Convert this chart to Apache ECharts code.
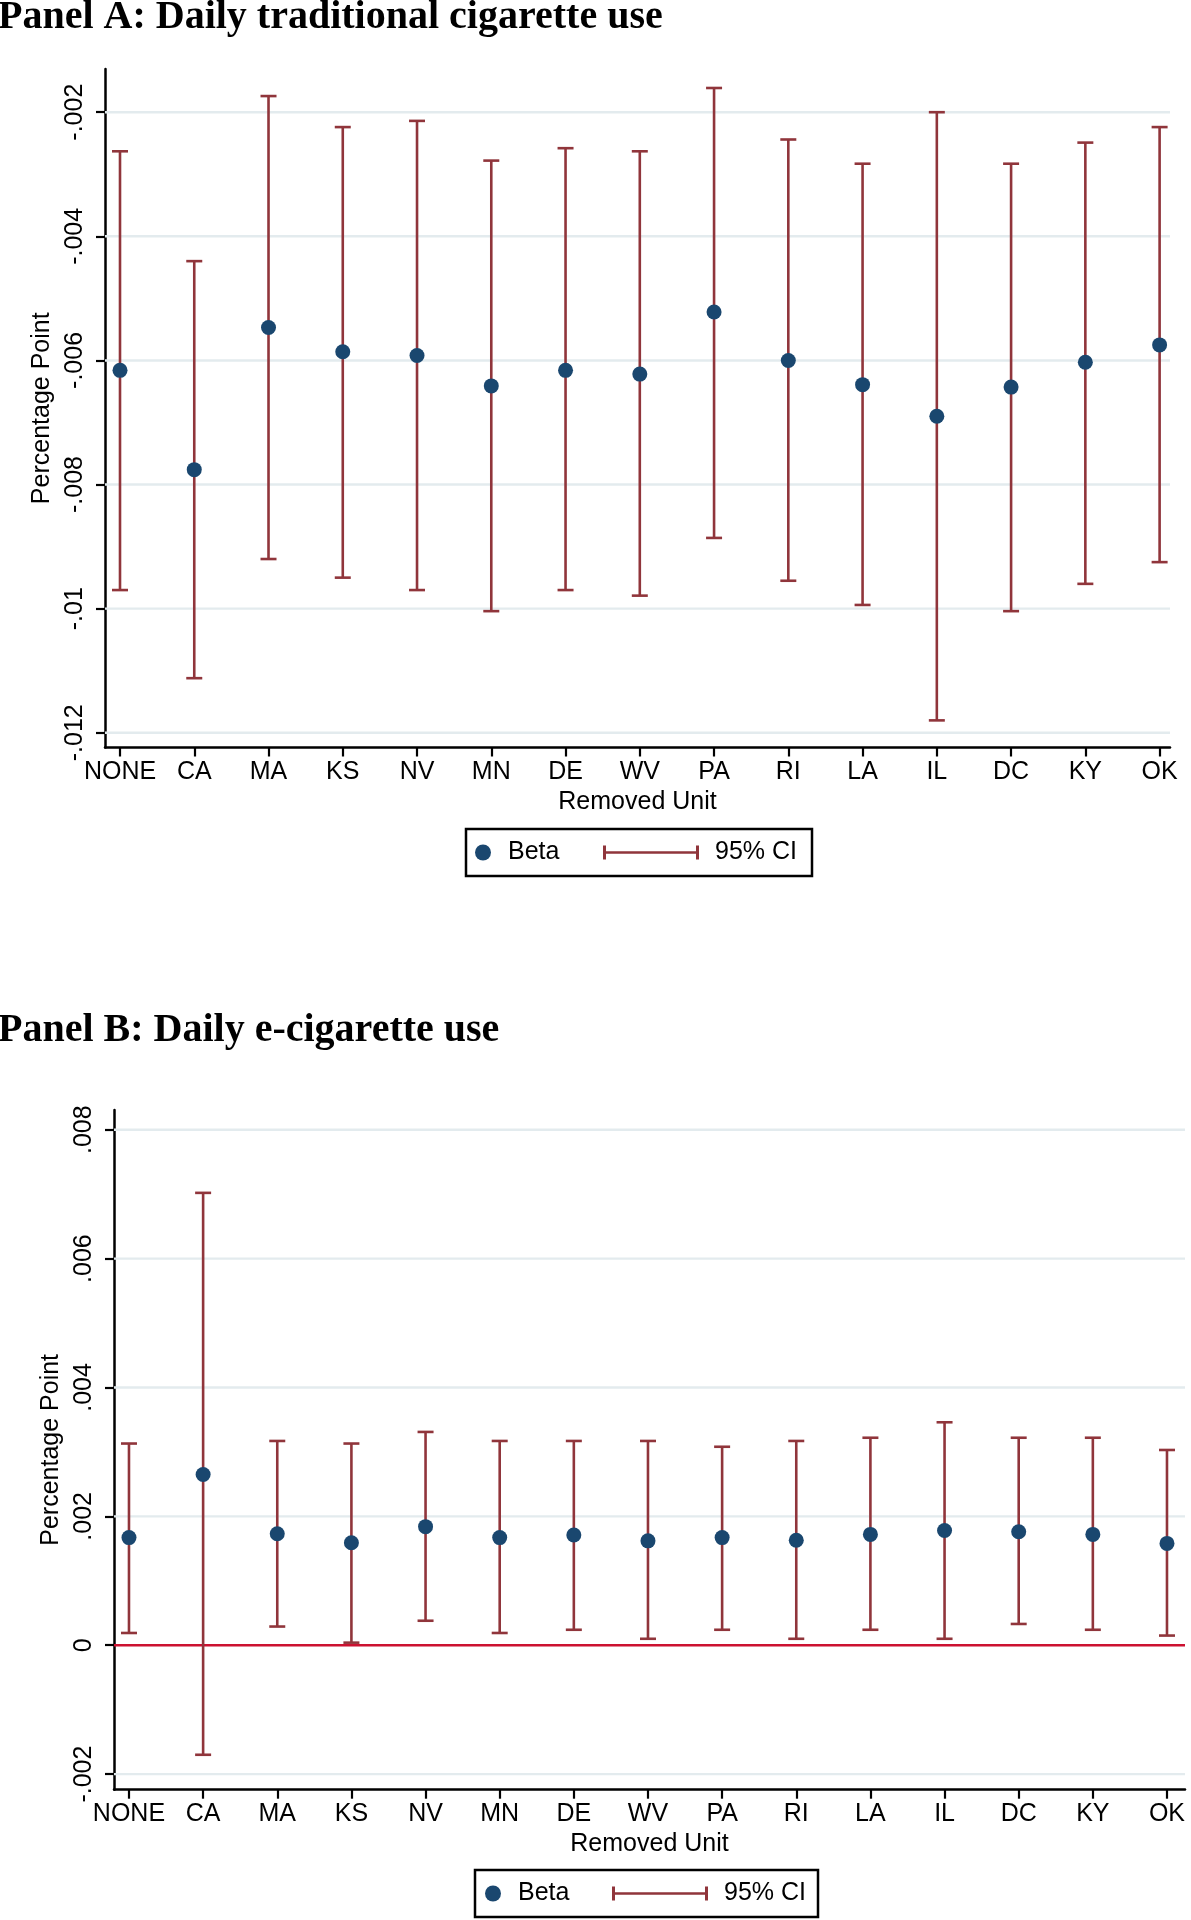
<!DOCTYPE html>
<html>
<head>
<meta charset="utf-8">
<script src="https://cdn.jsdelivr.net/npm/echarts@6/dist/echarts.min.js"></script>
<style>html,body{margin:0;padding:0;background:#fff}#c{width:1191px;height:1920px}</style>
</head>
<body>
<div id="c"></div>
<script>
// ---- data ----
const categories = ['NONE','CA','MA','KS','NV','MN','DE','WV','PA','RI','LA','IL','DC','KY','OK'];

// Panel A: Daily traditional cigarette use
const betaA = [-0.00616,-0.00776,-0.00547,-0.00586,-0.00592,-0.00641,-0.00616,-0.00622,-0.00522,-0.00600,-0.00639,-0.00690,-0.00643,-0.00603,-0.00575];
const loA   = [-0.00970,-0.01112,-0.00920,-0.00950,-0.00970,-0.01004,-0.00970,-0.00979,-0.00886,-0.00955,-0.00994,-0.01180,-0.01004,-0.00960,-0.00925];
const hiA   = [-0.00263,-0.00440,-0.00174,-0.00224,-0.00214,-0.00278,-0.00258,-0.00263,-0.00161,-0.00244,-0.00283,-0.00200,-0.00283,-0.00249,-0.00224];
const yTicksA = [-0.012,-0.010,-0.008,-0.006,-0.004,-0.002];

// Panel B: Daily e-cigarette use
const betaB = [0.00167,0.00265,0.00173,0.00159,0.00184,0.00167,0.00171,0.00162,0.00167,0.00163,0.00172,0.00178,0.00176,0.00172,0.00158];
const loB   = [0.00019,-0.00170,0.00029,0.00004,0.00038,0.00019,0.00024,0.00010,0.00024,0.00010,0.00024,0.00010,0.00033,0.00024,0.00015];
const hiB   = [0.00313,0.00702,0.00317,0.00313,0.00331,0.00317,0.00317,0.00317,0.00308,0.00317,0.00322,0.00346,0.00322,0.00322,0.00303];
const yTicksB = [-0.002,0,0.002,0.004,0.006,0.008];
const refLineB = [0];

const titleA = 'Panel A: Daily traditional cigarette use';
const titleB = 'Panel B: Daily e-cigarette use';
const xName = 'Removed Unit';
const yName = 'Percentage Point';

// ---- styling ----
const NAVY = '#1a476f', MAROON = '#90353b', ZERO = '#cc1131', GRID = '#e3ebee';
const SANS = '"Liberation Sans", Arial, sans-serif';
const SERIF = '"Liberation Serif", "Times New Roman", serif';
const FS = 25;
const xIdx = categories.map((_, i) => i);

function fmtY(v) {
  let s = String(Math.round(v * 100000) / 100000);
  return s.replace(/^(-?)0\./, '$1.');
}

function errRender(params, api) {
  const x = api.value(0), lo = api.value(1), hi = api.value(2);
  const a = api.coord([x, hi]), b = api.coord([x, lo]);
  const hw = 8;
  const st = { stroke: MAROON, lineWidth: 2.6 };
  return { type: 'group', children: [
    { type: 'line', shape: { x1: a[0], y1: a[1], x2: b[0], y2: b[1] }, style: st },
    { type: 'line', shape: { x1: a[0] - hw, y1: a[1], x2: a[0] + hw, y2: a[1] }, style: st },
    { type: 'line', shape: { x1: b[0] - hw, y1: b[1], x2: b[0] + hw, y2: b[1] }, style: st }
  ]};
}

function hLines(gi, values, color, width, z) {
  return {
    type: 'custom', xAxisIndex: gi, yAxisIndex: gi, z: z, silent: true,
    encode: { x: 0, y: 1 },
    data: values.map(v => [0, v]),
    renderItem: function (params, api) {
      const y = api.coord([0, api.value(1)])[1];
      const cs = params.coordSys;
      return { type: 'line', shape: { x1: cs.x, y1: y, x2: cs.x + cs.width, y2: y },
        style: { stroke: color, lineWidth: width } };
    }
  };
}

function xAxisCfg(gi, min, max) {
  return {
    type: 'value', gridIndex: gi, min: min, max: max,
    name: xName, nameLocation: 'middle', nameGap: 42,
    nameTextStyle: { fontFamily: SANS, fontSize: FS, color: '#000' },
    axisLine: { onZero: false, lineStyle: { color: '#000', width: 2.5 } },
    axisTick: { customValues: xIdx, length: 9, lineStyle: { color: '#000', width: 2.2 } },
    axisLabel: { customValues: xIdx, margin: 12, fontFamily: SANS, fontSize: FS, color: '#000',
      formatter: v => categories[Math.round(v)] || '' },
    splitLine: { show: false }
  };
}
function yAxisCfg(gi, min, max, ticks) {
  return {
    type: 'value', gridIndex: gi, min: min, max: max,
    name: yName, nameLocation: 'middle', nameGap: 46, nameRotate: 90,
    nameTextStyle: { fontFamily: SANS, fontSize: FS, color: '#000' },
    axisLine: { onZero: false, lineStyle: { color: '#000', width: 2.5 } },
    axisTick: { customValues: ticks, length: 9, lineStyle: { color: '#000', width: 2.2 } },
    axisLabel: { customValues: ticks, rotate: 90, margin: 17, fontFamily: SANS, fontSize: FS, color: '#000',
      formatter: v => fmtY(v) },
    splitLine: { show: false }
  };
}

const ciIcon = 'path://M0,0h3v14h-3z M0,5.8h96v2.4h-96z M93,0h3v14h-3z';

function legendPair(dotLeft, ciLeft, top) {
  return [
    { left: dotLeft, top: top, padding: 0, orient: 'horizontal', selectedMode: false,
      itemWidth: 16, itemHeight: 16, data: [{ name: 'Beta', icon: 'circle' }],
      textStyle: { fontFamily: SANS, fontSize: FS, color: '#000', padding: [0, 0, 0, 12] } },
    { left: ciLeft, top: top, padding: 0, orient: 'horizontal', selectedMode: false,
      itemWidth: 96, itemHeight: 14, data: [{ name: '95% CI', icon: ciIcon }],
      textStyle: { fontFamily: SANS, fontSize: FS, color: '#000', padding: [0, 0, 0, 11] } }
  ];
}

const chart = echarts.init(document.getElementById('c'), null, { renderer: 'canvas' });
const legA = legendPair(475, 603, 840);
const legB = legendPair(485, 612, 1881);

chart.setOption({
  animation: false,
  backgroundColor: '#fff',
  title: [
    { text: titleA, left: -2, top: -2, padding: 0,
      textStyle: { fontFamily: SERIF, fontWeight: 'bold', fontSize: 40, color: '#000' } },
    { text: titleB, left: -2, top: 1011, padding: 0,
      textStyle: { fontFamily: SERIF, fontWeight: 'bold', fontSize: 40, color: '#000' } }
  ],
  legend: legA.concat(legB),
  graphic: [
    { type: 'rect', shape: { x: 466, y: 829, width: 346, height: 47 }, style: { fill: 'none', stroke: '#000', lineWidth: 2.5 } },
    { type: 'rect', shape: { x: 475, y: 1870, width: 343, height: 47 }, style: { fill: 'none', stroke: '#000', lineWidth: 2.5 } }
  ],
  grid: [
    { left: 105, top: 69, width: 1065, height: 678.5 },
    { left: 114, top: 1110, width: 1071, height: 679.7 }
  ],
  xAxis: [ xAxisCfg(0, -0.202, 14.14), xAxisCfg(1, -0.202, 14.243) ],
  yAxis: [ yAxisCfg(0, -0.012237, -0.001304, yTicksA), yAxisCfg(1, -0.002242, 0.008306, yTicksB) ],
  series: [
    hLines(0, yTicksA, GRID, 2.4, 1),
    hLines(1, yTicksB.filter(v => v !== 0), GRID, 2.4, 1),
    hLines(1, refLineB, ZERO, 2.4, 1),
    { name: '95% CI', type: 'custom', xAxisIndex: 0, yAxisIndex: 0, z: 2,
      itemStyle: { color: MAROON }, renderItem: errRender, encode: { x: 0, y: [1, 2] },
      data: xIdx.map(i => [i, loA[i], hiA[i]]) },
    { name: 'Beta', type: 'scatter', xAxisIndex: 0, yAxisIndex: 0, z: 3,
      symbol: 'circle', symbolSize: 15, itemStyle: { color: NAVY, opacity: 1 },
      data: xIdx.map(i => [i, betaA[i]]) },
    { name: '95% CI', type: 'custom', xAxisIndex: 1, yAxisIndex: 1, z: 2,
      itemStyle: { color: MAROON }, renderItem: errRender, encode: { x: 0, y: [1, 2] },
      data: xIdx.map(i => [i, loB[i], hiB[i]]) },
    { name: 'Beta', type: 'scatter', xAxisIndex: 1, yAxisIndex: 1, z: 3,
      symbol: 'circle', symbolSize: 15, itemStyle: { color: NAVY, opacity: 1 },
      data: xIdx.map(i => [i, betaB[i]]) }
  ]
});
</script>
</body>
</html>
